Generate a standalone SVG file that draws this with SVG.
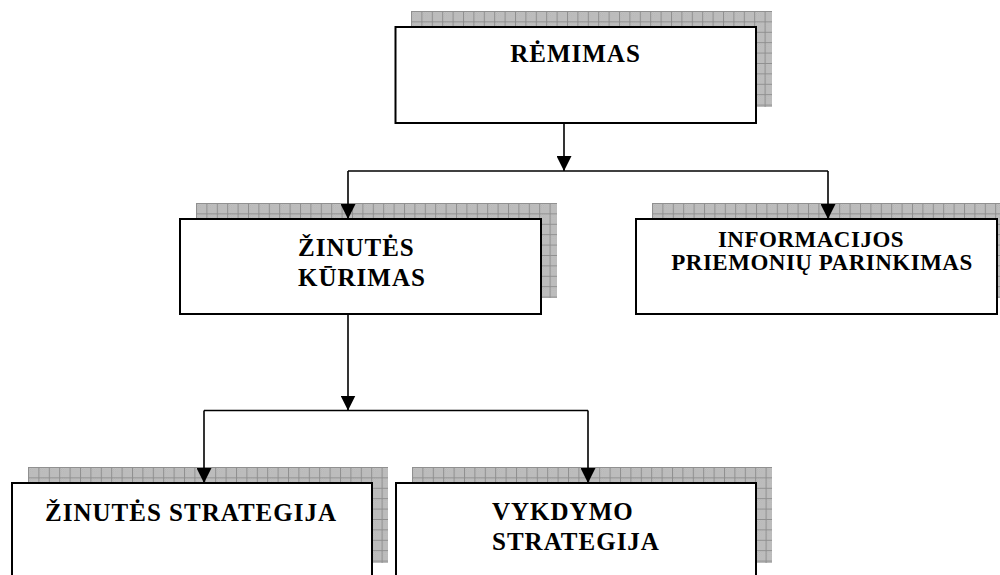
<svg xmlns="http://www.w3.org/2000/svg" width="1000" height="575" viewBox="0 0 1000 575">
  <style>
    .box { fill: #ffffff; stroke: #000000; stroke-width: 2; }
    .shadow { fill: url(#grid); }
    .label { font-family: "Liberation Serif", "Times New Roman", serif; font-weight: bold; font-size: 25px; letter-spacing: 1px; fill: #000000; }
    .small { font-size: 23px; letter-spacing: 0.5px; }
    .wire { fill: none; stroke: #000000; stroke-width: 1.6; }
  </style>
  <defs>
    <!-- speckled grey grid used for the drop shadows -->
    <pattern id="dots" width="2" height="2" patternUnits="userSpaceOnUse">
      <rect width="2" height="2" fill="#c6c6c6"/>
      <rect width="1" height="1" fill="#b2b2b2"/>
      <rect x="1" y="1" width="1" height="1" fill="#b2b2b2"/>
    </pattern>
    <pattern id="grid" width="10.4" height="10.4" patternUnits="userSpaceOnUse">
      <rect width="10.4" height="10.4" fill="url(#dots)"/>
      <path d="M0.5 0 V10.4 M0 0.5 H10.4" stroke="#8f8f8f" stroke-width="1" fill="none"/>
    </pattern>
    <marker id="arrow" viewBox="0 0 15 15" refX="15" refY="7.5" markerWidth="15" markerHeight="15" markerUnits="userSpaceOnUse" orient="auto">
      <path d="M0 0 L15 7.5 L0 15 Z" fill="#000000"/>
    </marker>
  </defs>

  <rect width="1000" height="575" fill="#ffffff"/>

  <g id="node-remimas">
    <g transform="translate(411 11)"><rect class="shadow" width="361" height="96"/></g>
    <rect class="box" x="395.5" y="27" width="360.5" height="96"/>
    <text class="label" x="575.5" y="62" text-anchor="middle">RĖMIMAS</text>
  </g>

  <g id="node-zinutes-kurimas">
    <g transform="translate(196 203)"><rect class="shadow" width="361" height="95"/></g>
    <rect class="box" x="180" y="219" width="361" height="95"/>
    <text class="label" x="298" y="256">ŽINUTĖS</text>
    <text class="label" x="298" y="286">KŪRIMAS</text>
  </g>

  <g id="node-informacijos">
    <g transform="translate(652 203)"><rect class="shadow" width="361" height="95"/></g>
    <rect class="box" x="636" y="219" width="361" height="95"/>
    <text class="label small" x="811" y="247" text-anchor="middle">INFORMACIJOS</text>
    <text class="label small" x="822" y="270" text-anchor="middle">PRIEMONIŲ PARINKIMAS</text>
  </g>

  <g id="node-zinutes-strategija">
    <g transform="translate(28 467)"><rect class="shadow" width="360" height="96"/></g>
    <rect class="box" x="12" y="483" width="360" height="100"/>
    <text class="label" x="191" y="521" text-anchor="middle">ŽINUTĖS STRATEGIJA</text>
  </g>

  <g id="node-vykdymo-strategija">
    <g transform="translate(412 467)"><rect class="shadow" width="360" height="96"/></g>
    <rect class="box" x="396" y="483" width="360" height="100"/>
    <text class="label" x="492" y="520">VYKDYMO</text>
    <text class="label" x="492" y="550">STRATEGIJA</text>
  </g>

  <!-- connectors, drawn last so the arrowheads sit on top of the shadows -->
  <g id="connectors">
    <path class="wire" d="M564 123 V171" marker-end="url(#arrow)"/>
    <path class="wire" d="M348 171 H828"/>
    <path class="wire" d="M348 171 V219" marker-end="url(#arrow)"/>
    <path class="wire" d="M828 171 V219" marker-end="url(#arrow)"/>
    <path class="wire" d="M348 314 V410.5" marker-end="url(#arrow)"/>
    <path class="wire" d="M204 410.5 H588"/>
    <path class="wire" d="M204 410.5 V483" marker-end="url(#arrow)"/>
    <path class="wire" d="M588 410.5 V483" marker-end="url(#arrow)"/>
  </g>
</svg>
